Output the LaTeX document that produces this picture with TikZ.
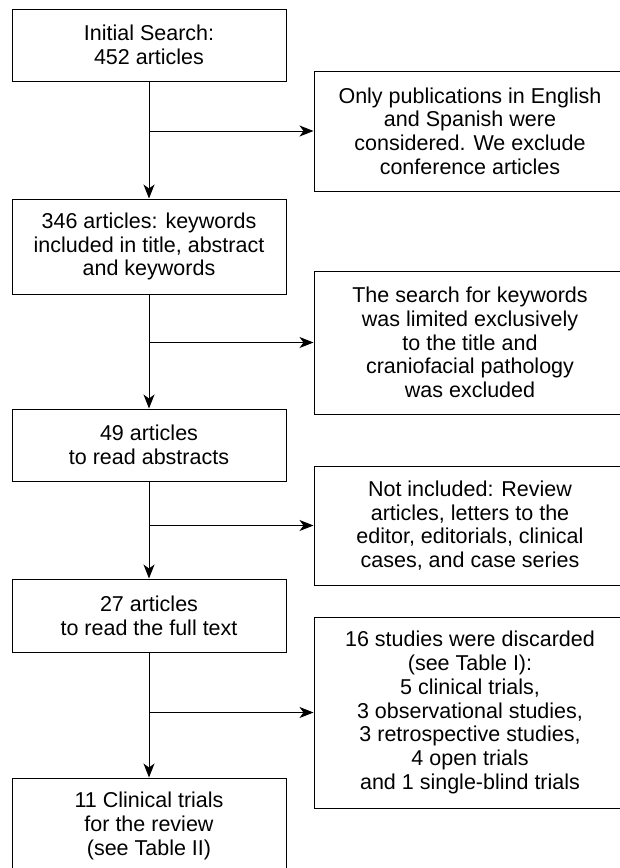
\documentclass[tikz,border=0pt]{standalone}
\usepackage{fontspec}
\setmainfont{Liberation Sans}
\usetikzlibrary{arrows.meta}

\begin{document}
\begin{tikzpicture}[x=1pt, y=1pt, line width=1pt,
    font=\fontsize{21.5}{23.7}\selectfont,
    stage/.style={draw, align=center, minimum width=274pt, inner sep=0pt},
    excl/.style={draw, align=center, minimum width=312pt, inner sep=0pt},
    flow/.style={-{Stealth[length=14pt, width=11pt, inset=4pt]}}]
    \useasboundingbox (0, 0) rectangle (619, -868);

    % main column
    \node [stage, minimum height=72pt] (search) at (149, -45) {Initial Search:\\ 452 articles};
    \node [stage, minimum height=95pt] (keywords) at (149, -246.5) {346 articles: keywords\\ included in title, abstract\\ and keywords};
    \node [stage, minimum height=72pt] (abstracts) at (149, -445) {49 articles\\ to read abstracts};
    \node [stage, minimum height=73pt] (fulltext) at (149, -615.5) {27 articles\\ to read the full text};
    \node [stage, minimum height=96pt] (review) at (149, -826) {11 Clinical trials\\ for the review\\ (see Table II)};

    % exclusions
    \node [excl, minimum height=120pt] (language) at (470, -131) {Only publications in English\\ and Spanish were\\ considered. We exclude\\ conference articles};
    \node [excl, minimum height=143pt] (title) at (470, -342.5) {The search for keywords\\ was limited exclusively\\ to the title and\\ craniofacial pathology\\ was excluded};
    \node [excl, minimum height=119pt] (types) at (470, -525.5) {Not included: Review\\ articles, letters to the\\ editor, editorials, clinical\\ cases, and case series};
    \node [excl, minimum height=191pt] (discarded) at (470, -712.5) {16 studies were discarded\\ (see Table I):\\ 5 clinical trials,\\ 3 observational studies,\\ 3 retrospective studies,\\ 4 open trials\\ and 1 single-blind trials};

    \draw [flow] (search) -- (keywords);
    \draw [flow] (keywords) -- (abstracts);
    \draw [flow] (abstracts) -- (fulltext);
    \draw [flow] (fulltext) -- (review);

    \draw [flow] (search.south |- language.west) -- (language.west);
    \draw [flow] (keywords.south |- title.west) -- (title.west);
    \draw [flow] (abstracts.south |- types.west) -- (types.west);
    \draw [flow] (fulltext.south |- discarded.west) -- (discarded.west);
\end{tikzpicture}
\end{document}
